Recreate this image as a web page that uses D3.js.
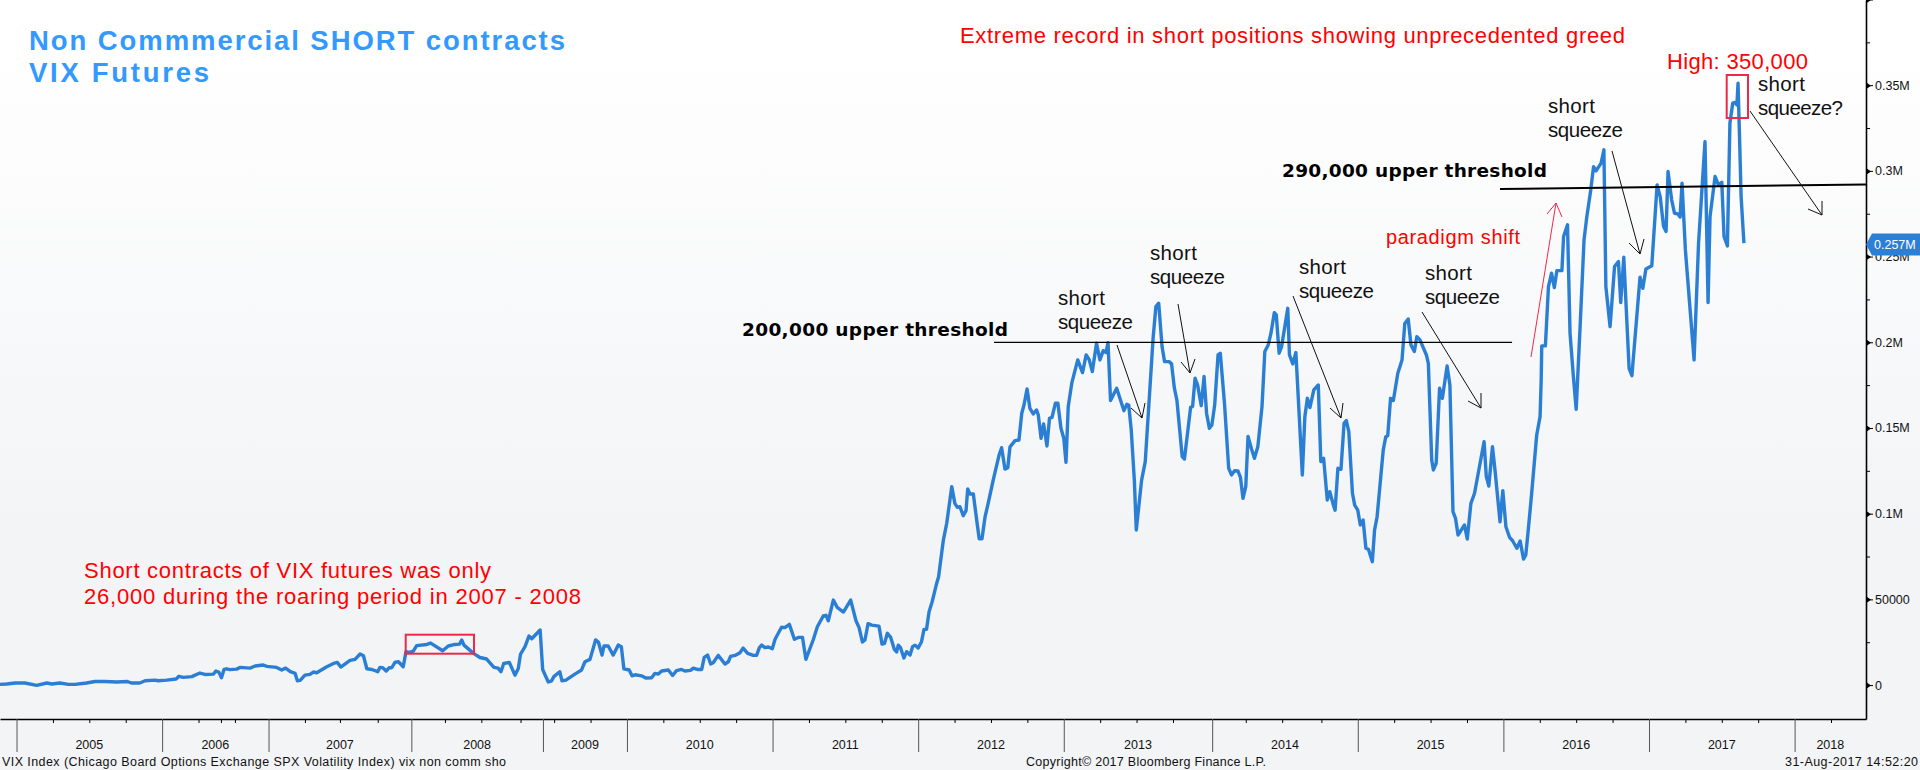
<!DOCTYPE html>
<html>
<head>
<meta charset="utf-8">
<title>VIX Futures non commercial short contracts</title>
<script src="https://cdn.jsdelivr.net/npm/d3@7"></script>
<style>
  html, body { margin: 0; padding: 0; background: #fff; }
  svg { display: block; }
  .axis text { font-family: "Liberation Sans", sans-serif; font-size: 12.5px; fill: #111; }
</style>
</head>
<body>
<script>
const WIDTH = 1920;
const HEIGHT = 770;
const AXIS_X = 1866;
const AXIS_Y = 719;

// x runs on weekly observations since the start of 2005, y on thousands of contracts
const yearLabels = ["2005", "2006", "2007", "2008", "2009", "2010", "2011", "2012", "2013", "2014", "2015", "2016", "2017", "2018"];
const weeksPerYear = [52, 38, 51, 47, 30, 52, 52, 52, 53, 52, 52, 52, 52];
const quarterTicks = [13, 26, 39, 65, 73, 78, 103, 115.5, 129, 153, 166, 180, 192, 205, 231, 244, 257, 283, 296, 309,
  335, 348, 361, 387, 400, 413, 439, 452, 466, 492, 505, 518, 544, 557, 570, 596, 609, 622, 648];
const yTicks = [0, 50, 100, 150, 200, 250, 300, 350, 400];
const yTickLabels = ["0", "50000", "0.1M", "0.15M", "0.2M", "0.25M", "0.3M", "0.35M", ""];
const yMinorTicks = [25, 75, 125, 175, 225, 275, 325, 375];

const shorts2005to2008 = [[-5.9,0.4],[-3.5,0.6],[-0.5,1.2],[3,1.2],[7.2,-0.2],[10.8,1.2],[12.6,0.6],[15.5,1.2],[18.5,0.4],[20.9,0.4],
  [25,1.2],[28,2.1],[31.6,2.1],[35.8,1.8],[39.6,2.1],[41,1.2],[44,1.2],[45.9,2.5],[49.5,2.9],[50.6,2.5],[53.6,2.9],[57,3.5],[58,5.1],
  [59.6,4.5],[62.6,4.9],[65.5,7],[67.3,6.2],[70.3,6.4],[71.2,8.2],[72.3,7.4],[73.2,4.3],[74.1,9.1],[75,9.5],[76.2,9],[78.6,9.3],
  [79.8,10.3],[83.4,9.9],[85.2,11.1],[88.1,11.7],[89.4,10.9],[92.9,10.3],[94.7,8.8],[96.1,9.9],[97.8,7.8],[99.5,6.8],[100.3,2.5],
  [101.3,2.7],[103,5.8],[104.8,6.2],[106,7.6],[107.2,7.2],[110.8,10.7],[113.2,12.6],[114.6,13.2],[115.8,10.5],[119.1,14.4],[120.9,15],
  [122.7,18.1],[123.9,17.1],[125.1,9.5],[126.9,9.1],[129,7.8],[129.8,10.3],[130.8,10.1],[132,8.2],[133.1,10.1],[134,10.1],[135.2,13.4],
  [136.4,13.6],[138.1,10.7],[139.1,19.5],[140.3,19.1],[141.7,19.8],[142.9,23],[146.5,23.7],[147.9,24.5],[152.2,20],[154.2,22.8],
  [156.6,23.7],[158.2,23.9],[159,26.3],[159.8,23.3],[163.2,18.5],[165.5,16.1],[167.9,15.2],[170.5,10.3],[172,9.9],[173,7.8],[174,12.6],
  [176,13.2],[178,5.8],[179.2,9.7],[180,18.1],[181.6,22.4],[183,28.6],[184,27],[187,32.1]];
const shorts2009to2011 = [[187.9,9.1],[189.9,1.8],[191.1,2.5],[191.9,4.9],[194,7.8],[194.8,2.5],[196.2,2.9],[199.4,6.4],[201.8,8.8],
  [203,13.6],[204.8,15],[206.8,26.3],[207.8,25.1],[209.1,17.5],[209.8,22.8],[211.3,22.8],[213.1,17.5],[214.9,23.3],[216,22.4],[216.9,9.5],
  [218.8,8.8],[219.8,5.4],[220.9,6],[223.2,5.4],[224.7,4.1],[226.8,4.3],[228,6.8],[229.2,6.4],[230.4,8.2],[232.8,8.8],[234.3,5.6],
  [235.7,8.4],[237.5,9.1],[238.7,8.2],[240.7,8.6],[241.7,9.9],[243.1,9.1],[244.7,9.1],[245.6,16.1],[246.8,17.5],[247.9,12.3],[248.8,13],
  [250.6,17.3],[253,12.3],[254.2,13.6],[255,16.7],[256.6,17.3],[258.4,18.9],[259.5,21.6],[261.1,18.5],[263.1,17.3],[264.3,17.3],
  [265.3,21.8],[266.1,23.3],[267.3,21.8],[268.5,22.2],[269.9,21.2],[270.9,26.7],[273.2,33.7],[274.4,33.5],[276,35.4],[277.8,26.7],
  [279.2,27.8],[280.7,27.8],[281.9,15],[284.5,26.3],[286,34],[288.1,40.3],[289.1,40.7],[289.9,37.5],[291.7,49.6],[293.1,45.3],[295.3,42.6],
  [297.9,49.6],[299.8,37.5],[300.9,33.5],[302.1,25.1],[303,26.3],[304.1,35.8],[305.4,35],[308,34.4],[309.1,23.9],[310,24.3],[311,30.2],
  [312.2,27.8],[313.5,20.8],[314.3,19.3],[314.9,23.3],[315.7,21.8],[316.9,15.8],[317.9,19.5],[319.1,17.5],[320,22.4],[320.9,23.3],[322,21.6]];
const shorts2012to2014 = [[323.2,25.3],[324.1,32.5],[325,32.5],[325.9,42.8],[327,48.6],[328.6,59.3],[329.3,63.2],[331,84.6],[332.2,94.4],
  [334,115.8],[335.1,106],[336,103.7],[336.9,104.1],[338.1,98.8],[339.1,101.8],[339.7,114.4],[340.5,111.5],[341.7,111.5],[342.9,96.3],
  [343.8,85.4],[344.8,85.4],[345.9,98.2],[347,106],[348.8,119.6],[350.9,134.2],[351.8,138.5],[353,126],[354,126.8],[354.8,139],[356.6,142.6],
  [358,143],[359,158.6],[359.8,163.4],[360.9,172.8],[361.9,161.5],[363.1,158.2],[364.3,160.5],[364.9,157.6],[365.9,144],[366.8,152.3],
  [368,139.5],[368.9,155.6],[369.8,156.2],[371,164.4],[371.9,164.4],[373,149.8],[374,144],[374.8,130],[375.6,162.5],[376.9,176.5],[379,189.7],
  [380.7,182.3],[382,192.6],[383.1,189.7],[384.2,182.9],[385.7,199.4],[386.9,189.7],[388.1,195.1],[389.1,194],[389.8,199.8],[390.7,166],
  [392.9,173.2],[395.5,160.1],[396.5,163.8],[397.2,163.4],[398.1,148.8],[399.2,119.6],[399.9,90.5],[401.8,119.6],[403.1,130.4],[405.9,202.3],
  [406.9,220.8],[407.9,222.8],[409.1,197.5],[410,188.7],[411.6,188.7],[412.5,187.4],[413.5,173.2],[414.4,166.3],[416.3,133.3],[417.1,131.9],
  [419.3,162],[420,162.5],[420.9,179],[421.8,175],[423.1,163],[424.1,180],[425,158.6],[426,149.8],[426.9,151.8],[427.9,163.4],[429.1,192.6],
  [429.9,193.6],[431.4,164.4],[432.9,126.5],[433.9,122.6],[435,125],[436.2,124.9],[437.1,121.2],[438,109],[439,115.8],[439.8,145],[441,138],
  [442.1,132.3],[443.3,139],[444.8,162.5],[445.8,194.6],[447,198.4],[448,205.3],[449.2,217.3],[449.9,216],[450.9,193.6],[451.8,197.5],
  [454,219.8],[454.6,192.6],[455.8,187.4],[456.9,194],[459.2,122.6],[460.1,156.6],[461,167.3],[461.9,161.9],[463.3,172.2],[464.9,175.1],
  [465.8,130.4],[466.8,132.3],[468.1,108],[469,112.8],[470.3,105],[470.9,102],[471.9,126.5],[473,125.9],[474.1,152.7],[474.9,154.3],
  [475.8,147.9],[477.1,111.9],[477.9,105],[479,102]];
const shorts2015to2017 = [[479.9,93.4],[480.9,96.3],[481.9,79.8],[482.8,79.2],[484.2,72],[485,90.5],[485.9,98.2],[488.1,137.2],[489,144.9],
  [489.7,145.5],[490.7,167.3],[491.7,166],[493.3,181.9],[494.8,189.7],[495.8,211],[497,213.6],[498,198.4],[499.2,194.6],[500.1,203.3],
  [501.2,201.4],[503.5,192.6],[504.2,187.7],[505.4,131.3],[506,125.5],[507,129.4],[508.2,173.2],[509.2,167.3],[510.9,186.2],[511.9,175.1],
  [513,101.2],[513.9,97.3],[514.8,87.5],[517.1,93.4],[518.1,85.2],[519.4,106],[520.7,111.9],[524.1,142],[524.9,121.6],[525.8,116.1],
  [527.1,139.1],[528,125.5],[529.8,95.3],[530.8,113.4],[531.9,92.4],[533.2,86.2],[534.3,84.2],[535.8,79.8],[537,84],[538.2,73.5],[539,75.9],
  [540,92.4],[541.1,111.9],[542.9,145.9],[544.1,156.6],[544.5,178],[544.7,197.9],[546,197.9],[547.1,232.5],[548.2,240.3],[549.2,231.9],
  [550.1,241.8],[551.9,241.8],[552.5,261.7],[553.9,268.5],[554.8,205.3],[556,180],[557,160.9],[558.4,209.1],[559.8,259.7],[560.8,273.3],
  [562.2,288.9],[563.2,302.5],[564.1,300],[565.9,304.5],[566.9,312.3],[567.6,232.5],[569.1,209.1],[570.7,244.2],[572.1,247.1],[572.9,223.2],
  [574,249.6],[575.9,184.8],[576.9,180.5],[579.8,238],[580.8,231.5],[581.9,242.8],[584,244.7],[585.9,291.8],[587,285],[588.2,267.5],
  [589.1,264.6],[589.8,299.6],[591.1,283],[592.1,275.3],[593.3,274.9],[594.1,273],[594.8,292.8],[596,253.9],[599.1,189.7],[600.7,257.8],
  [603,317.1],[604.1,223.2],[604.8,273.3],[606.6,296.7],[607.8,291.8],[609,293.4],[609.8,261.7],[611,256.2],[611.9,327.8],[612.9,339.5],
  [613.7,339.9],[614.4,338.5],[614.8,351.2],[615.3,322],[615.9,285],[616.9,257.8]];
const lastValue = 257;
const thresholdLow = [[349.1, 200], [534.1, 200]];
const thresholdHigh = [[529.8, 289.4], [660.5, 292.1]];

const shorts = [...shorts2005to2008, ...shorts2009to2011, ...shorts2012to2014, ...shorts2015to2017];
const yearStartList = [0, ...d3.cumsum(weeksPerYear)];

const xScale = d3.scaleLinear().domain([-5.9, 660.5]).range([0, AXIS_X]);
const yScale = d3.scaleLinear().domain([-19.8, 399.7]).range([AXIS_Y, 0]);

const svg = d3.select("body").append("svg").attr("width", WIDTH).attr("height", HEIGHT);

const gradient = svg.append("defs").append("linearGradient")
  .attr("id", "paper").attr("x1", 0).attr("y1", 0).attr("x2", 0).attr("y2", 1);
gradient.append("stop").attr("offset", "5%").attr("stop-color", "#ffffff");
gradient.append("stop").attr("offset", "70%").attr("stop-color", "#f3f4f6");
svg.append("rect").attr("width", WIDTH).attr("height", HEIGHT).attr("fill", "url(#paper)");

// ---- axes
const xMinor = svg.append("g").attr("class", "axis").attr("transform", `translate(0,${AXIS_Y})`)
  .call(d3.axisBottom(xScale).tickValues(quarterTicks).tickSize(4).tickSizeOuter(0).tickFormat(""));
xMinor.select(".domain").attr("stroke", "#000").attr("stroke-width", 1.6);

const xMajor = svg.append("g").attr("class", "axis").attr("transform", `translate(0,${AXIS_Y})`)
  .call(d3.axisBottom(xScale).tickValues(yearStartList).tickSize(33).tickSizeOuter(0).tickFormat(""));
xMajor.select(".domain").remove();
xMajor.selectAll("line").attr("stroke", "#555");

svg.append("g").selectAll("text")
  .data(yearLabels)
  .join("text")
  .attr("x", (d, i) => xScale((yearStartList[i] + (i + 1 < yearStartList.length ? yearStartList[i + 1] : 660.5)) / 2))
  .attr("y", 749)
  .attr("text-anchor", "middle")
  .attr("font-family", "Liberation Sans, sans-serif")
  .attr("font-size", 12.5)
  .attr("fill", "#111")
  .text(d => d);

const yMinor = svg.append("g").attr("class", "axis").attr("transform", `translate(${AXIS_X},0)`)
  .call(d3.axisRight(yScale).tickValues(yMinorTicks).tickSize(4).tickSizeOuter(0).tickFormat(""));
yMinor.select(".domain").attr("stroke", "#000").attr("stroke-width", 1.6);

const yMajor = svg.append("g").attr("class", "axis").attr("transform", `translate(${AXIS_X},0)`)
  .call(d3.axisRight(yScale).tickValues(yTicks).tickSize(7).tickPadding(2).tickSizeOuter(0)
    .tickFormat((d, i) => yTickLabels[i]));
yMajor.select(".domain").remove();
yMajor.selectAll(".tick").append("path").attr("d", "M0,-3.5L5,0L0,3.5Z").attr("fill", "#000");

// ---- series
const line = d3.line().x(d => xScale(d[0])).y(d => yScale(d[1]));
svg.append("path")
  .datum(shorts)
  .attr("d", line)
  .attr("fill", "none")
  .attr("stroke", "#2a7fd4")
  .attr("stroke-width", 3.4)
  .attr("stroke-linejoin", "round");

// last value badge
const badgeY = yScale(lastValue);
svg.append("path")
  .attr("d", `M${AXIS_X},${badgeY}L${AXIS_X + 6},${badgeY - 11}H${WIDTH}V${badgeY + 11}H${AXIS_X + 6}Z`)
  .attr("fill", "#2b80d5");
svg.append("text")
  .attr("x", AXIS_X + 8).attr("y", badgeY + 4.5)
  .attr("font-family", "Liberation Sans, sans-serif").attr("font-size", 12.5)
  .attr("fill", "#fff").text("0.257M");

// ---- thresholds
svg.append("path").datum(thresholdLow).attr("d", line).attr("stroke", "#000").attr("stroke-width", 1.2).attr("fill", "none");
svg.append("path").datum(thresholdHigh).attr("d", line).attr("stroke", "#000").attr("stroke-width", 2).attr("fill", "none");

// ---- annotations, placed by hand on the page like the original
const notes = [
  { text: "Non Commmercial SHORT contracts", x: 29, y: 50, size: 27.5, weight: 700, fill: "#3399ff", len: 536 },
  { text: "VIX Futures", x: 29, y: 82, size: 27.5, weight: 700, fill: "#3399ff", len: 180 },
  { text: "Extreme record in short positions showing unprecedented greed", x: 960, y: 43, size: 22, fill: "#ff0000", len: 665 },
  { text: "High: 350,000", x: 1667, y: 69, size: 22, fill: "#ff0000", len: 141 },
  { text: "Short contracts of VIX futures was only", x: 84, y: 578, size: 22, fill: "#ff0000", len: 407 },
  { text: "26,000 during the roaring period in 2007 - 2008", x: 84, y: 604, size: 22, fill: "#ff0000", len: 497 },
  { text: "paradigm shift", x: 1386, y: 244, size: 20, fill: "#ff0000", len: 134 },
  { text: "200,000 upper threshold", x: 742, y: 336, size: 18.5, weight: 700, fill: "#000", family: "DejaVu Sans", len: 266 },
  { text: "290,000 upper threshold", x: 1282, y: 177, size: 18.5, weight: 700, fill: "#000", family: "DejaVu Sans", len: 265 },
  { text: "short", x: 1058, y: 305, size: 20.5, fill: "#111", len: 47 },
  { text: "squeeze", x: 1058, y: 329, size: 20.5, fill: "#111", len: 75 },
  { text: "short", x: 1150, y: 260, size: 20.5, fill: "#111", len: 47 },
  { text: "squeeze", x: 1150, y: 284, size: 20.5, fill: "#111", len: 75 },
  { text: "short", x: 1299, y: 274, size: 20.5, fill: "#111", len: 47 },
  { text: "squeeze", x: 1299, y: 298, size: 20.5, fill: "#111", len: 75 },
  { text: "short", x: 1425, y: 280, size: 20.5, fill: "#111", len: 47 },
  { text: "squeeze", x: 1425, y: 304, size: 20.5, fill: "#111", len: 75 },
  { text: "short", x: 1548, y: 113, size: 20.5, fill: "#111", len: 47 },
  { text: "squeeze", x: 1548, y: 137, size: 20.5, fill: "#111", len: 75 },
  { text: "short", x: 1758, y: 91, size: 20.5, fill: "#111", len: 47 },
  { text: "squeeze?", x: 1758, y: 115, size: 20.5, fill: "#111", len: 85 },
  { text: "VIX Index (Chicago Board Options Exchange SPX Volatility Index) vix non comm sho", x: 2, y: 766, size: 12.5, fill: "#111", len: 504 },
  { text: "Copyright\u00a9 2017 Bloomberg Finance L.P.", x: 1026, y: 766, size: 12.5, fill: "#111", len: 240 },
  { text: "31-Aug-2017 14:52:20", x: 1785, y: 766, size: 12.5, fill: "#111", len: 133 }
];

svg.append("g").selectAll("text")
  .data(notes)
  .join("text")
  .attr("x", d => d.x)
  .attr("y", d => d.y)
  .attr("font-size", d => d.size)
  .attr("font-weight", d => d.weight || 400)
  .attr("font-family", d => d.family || "Liberation Sans")
  .attr("fill", d => d.fill)
  .attr("textLength", d => d.len || null)
  .attr("lengthAdjust", "spacing")
  .text(d => d.text);

const arrows = [
  { path: [[1117, 345], [1142, 418]], barbs: [[1131, 408], [1142, 418], [1145, 403]], color: "#111" },
  { path: [[1178, 304], [1190, 373]], barbs: [[1181, 362], [1190, 373], [1195, 359]], color: "#111" },
  { path: [[1293, 296], [1341, 418]], barbs: [[1330, 408], [1341, 418], [1343, 403]], color: "#111" },
  { path: [[1422, 312], [1481, 408]], barbs: [[1468, 401], [1481, 408], [1481, 393]], color: "#111" },
  { path: [[1612, 151], [1640, 254]], barbs: [[1629, 243], [1640, 254], [1644, 239]], color: "#111" },
  { path: [[1750, 111], [1822, 215]], barbs: [[1808, 209], [1822, 215], [1822, 201]], color: "#111" },
  { path: [[1531, 357], [1556, 203]], barbs: [[1547, 214], [1556, 203], [1562, 217]], color: "#f0274a" }
];
const plain = d3.line();
const arrowG = svg.append("g").attr("fill", "none").attr("stroke-width", 1);
arrows.forEach(a => {
  arrowG.append("path").attr("d", plain(a.path)).attr("stroke", a.color);
  arrowG.append("path").attr("d", plain(a.barbs)).attr("stroke", a.color);
});

const boxes = [
  { x: 405.7, y: 634.7, w: 68.3, h: 19 },
  { x: 1726.7, y: 75, w: 21.3, h: 43 }
];
svg.append("g").selectAll("rect")
  .data(boxes)
  .join("rect")
  .attr("x", d => d.x).attr("y", d => d.y).attr("width", d => d.w).attr("height", d => d.h)
  .attr("fill", "none").attr("stroke", "#f0274a").attr("stroke-width", 2);
</script>
</body>
</html>
